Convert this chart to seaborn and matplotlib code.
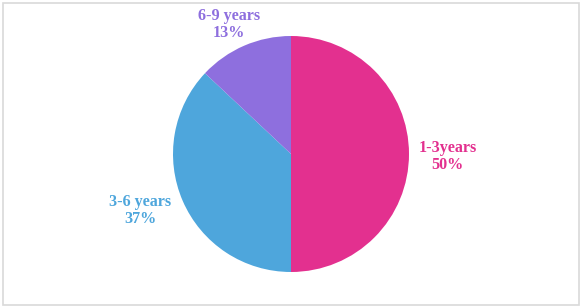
import matplotlib
matplotlib.use("Agg")
import matplotlib.pyplot as plt
import seaborn as sns
from matplotlib.patches import Rectangle

categories = ["1-3years", "3-6 years", "6-9 years"]
values = [50, 37, 13]
colors = ["#E3308F", "#4EA6DC", "#8E6FDE"]
pct_labels = ["50%", "37%", "13%"]

sns.set_theme(style="white")
plt.rcParams['font.family'] = ['Liberation Serif', 'DejaVu Serif']

W, H = 582, 308
fig = plt.figure(figsize=(W / 100, H / 100), dpi=100)
fig.patch.set_facecolor("white")
fig.patches.append(Rectangle((3 / W, 3 / H), (W - 6) / W, (H - 5.5) / H,
                             transform=fig.transFigure, fill=False,
                             edgecolor="#D9D9D9", linewidth=1.2))

cx, cy, r = 291, 154, 118
ax = fig.add_axes([(cx - r) / W, (H - cy - r) / H, 2 * r / W, 2 * r / H])
ax.pie(values, colors=colors, startangle=90, counterclock=False,
       radius=1.0, wedgeprops=dict(linewidth=0))
ax.set_xlim(-1, 1)
ax.set_ylim(-1, 1)
ax.set_aspect("equal")
ax.axis("off")

label_pos = [(1.325, -0.02), (-1.28, -0.475), (-0.525, 1.10)]
for (x, y), cat, pct, col in zip(label_pos, categories, pct_labels, colors):
    ax.text(x, y, f"{cat}\n{pct}", ha="center", va="center", color=col,
            fontsize=11.6, fontweight="bold", linespacing=1.08,
            clip_on=False)

fig.savefig("out.png", dpi=100)
